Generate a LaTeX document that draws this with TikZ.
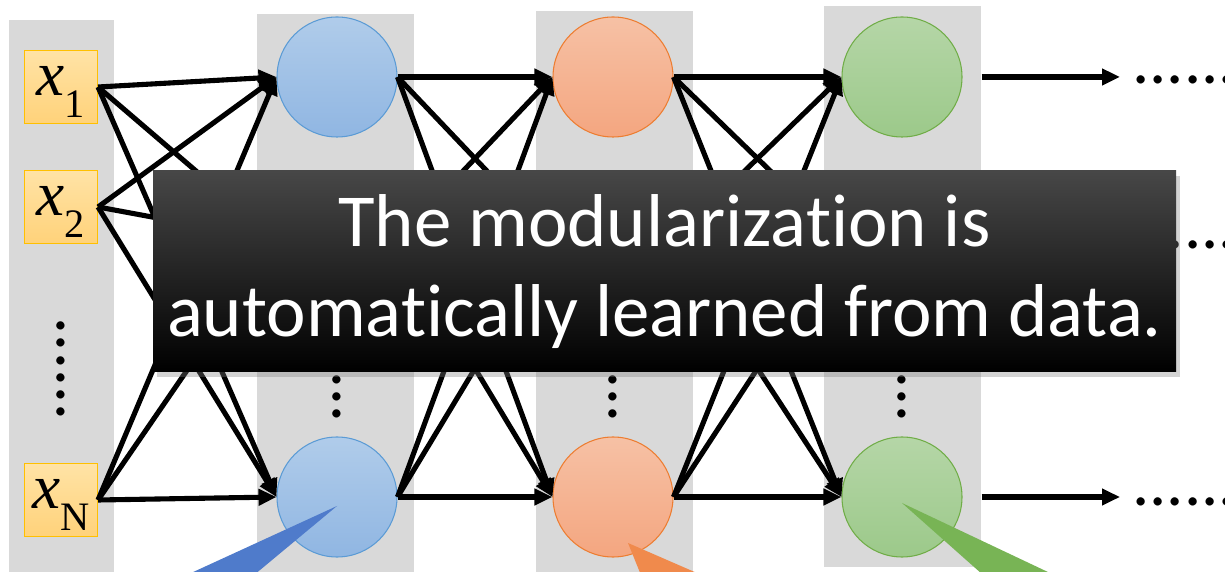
\documentclass[tikz,border=0pt]{standalone}
\usepackage{fontspec}
\setmainfont{Carlito}[Ligatures=NoCommon]
\newfontfamily\tnrfont{Liberation Serif}
\newfontfamily\tnritfont{Liberation Serif Italic}
\usetikzlibrary{positioning,arrows.meta,shadows}

\definecolor{colgray}{HTML}{D9D9D9}
\definecolor{inTop}{HTML}{FFE3A6}
\definecolor{inBot}{HTML}{FFD27A}
\definecolor{inLine}{HTML}{FFC000}
\definecolor{blueTop}{HTML}{B0CCEA}
\definecolor{blueBot}{HTML}{90B6E2}
\definecolor{blueLine}{HTML}{5B9BD5}
\definecolor{orTop}{HTML}{F6C1A5}
\definecolor{orBot}{HTML}{F4A680}
\definecolor{orLine}{HTML}{ED7D31}
\definecolor{grTop}{HTML}{B5D6A7}
\definecolor{grBot}{HTML}{9CC98A}
\definecolor{grLine}{HTML}{70AD47}
\definecolor{blueTag}{HTML}{4F7BCB}
\definecolor{orTag}{HTML}{F08A4C}
\definecolor{grTag}{HTML}{78B455}
\definecolor{bannerTop}{HTML}{474747}

\newcommand{\xin}[1]{\rule[-7pt]{0pt}{7pt}{\tnritfont x}\smash{\raisebox{-12.5pt}{\tnrfont\fontsize{23}{23}\selectfont #1}}}

\tikzset{
  inbox/.style={draw=inLine, line width=0.6pt, top color=inTop, bottom color=inBot,
    minimum size=1.46cm, inner sep=0pt, font=\fontsize{36}{36}\selectfont},
  unit/.style={circle, line width=0.6pt, minimum size=2.4cm, inner sep=0pt},
  blueunit/.style={unit, draw=blueLine, top color=blueTop, bottom color=blueBot},
  orangeunit/.style={unit, draw=orLine, top color=orTop, bottom color=orBot},
  greenunit/.style={unit, draw=grLine, top color=grTop, bottom color=grBot},
  hiddenunit/.style={unit},
  vdots/.style={inner sep=0pt, font=\fontsize{39}{39}\selectfont},
  hdots/.style={anchor=west, inner sep=0pt, font=\fontsize{39}{39}\selectfont},
  link/.style={->, line width=2.9pt},
  banner/.style={text=white, align=center, minimum width=20.46cm, minimum height=4.02cm,
    top color=bannerTop, middle color=black, bottom color=black,
    drop shadow={opacity=0.35, shadow xshift=2pt, shadow yshift=-3pt},
    font=\fontsize{42.6}{51}\selectfont}
}

\begin{document}
\begin{tikzpicture}[>={Triangle[length=0.36cm,width=0.32cm]}]
    \useasboundingbox (0,0) rectangle (24.5,-11.44);
    % layer columns
    \fill[colgray] (0.18,-0.4) rectangle (2.28,-11.44);
    \fill[colgray] (5.14,-0.28) rectangle (8.28,-11.44);
    \fill[colgray] (10.72,-0.22) rectangle (13.86,-11.44);
    \fill[colgray] (16.48,-0.12) rectangle (19.62,-11.34);

    \node[inbox] (x1) at (1.22,-1.74) {\xin{1}};
    \node[inbox] (x2) [below of=x1,node distance=2.4cm] {\xin{2}};
    \node[inbox] (xN) [below of=x2,node distance=5.86cm] {\xin{N}};
    \node[vdots] (xdots) [below of=x2,node distance=3.24cm] {\rotatebox{90}{......}};

    \node[blueunit] (b1) at (6.74,-1.54) {};
    \node[hiddenunit] (b2) [below of=b1,node distance=3.26cm] {};
    \node[blueunit] (b3) [below of=b1,node distance=8.4cm] {};
    \node[vdots] (bdots) [below of=b1,node distance=6.4cm] {\rotatebox{90}{...}};

    \node[orangeunit] (o1) [right of=b1,node distance=5.52cm] {};
    \node[hiddenunit] (o2) [right of=b2,node distance=5.52cm] {};
    \node[orangeunit] (o3) [right of=b3,node distance=5.52cm] {};
    \node[vdots] (odots) [right of=bdots,node distance=5.52cm] {\rotatebox{90}{...}};

    \node[greenunit] (g1) [right of=o1,node distance=5.78cm] {};
    \node[hiddenunit] (g2) [right of=o2,node distance=5.78cm] {};
    \node[greenunit] (g3) [right of=o3,node distance=5.78cm] {};
    \node[vdots] (gdots) [right of=odots,node distance=5.78cm] {\rotatebox{90}{...}};

    \node[hdots] (out1) at (22.64,-1.6) {......};
    \node[hdots] (out2) at (22.64,-4.9) {......};
    \node[hdots] (out3) at (22.64,-10.04) {......};

    % input layer
    \draw[link] (x1.east) -- (b1.west);
    \draw[link] (x1.east) -- (b2.west);
    \draw[link] (x1.east) -- (b3.west);
    \draw[link] (x2.east) -- (b1.west);
    \draw[link] (x2.east) -- (b2.west);
    \draw[link] (x2.east) -- (b3.west);
    \draw[link] (xN.east) -- (b1.west);
    \draw[link] (xN.east) -- (b2.west);
    \draw[link] (xN.east) -- (b3.west);

    % blue to orange
    \draw[link] (b1.east) -- (o1.west);
    \draw[link] (b1.east) -- (o2.west);
    \draw[link] (b1.east) -- (o3.west);
    \draw[link] (b2.east) -- (o1.west);
    \draw[link] (b2.east) -- (o2.west);
    \draw[link] (b2.east) -- (o3.west);
    \draw[link] (b3.east) -- (o1.west);
    \draw[link] (b3.east) -- (o2.west);
    \draw[link] (b3.east) -- (o3.west);

    % orange to green
    \draw[link] (o1.east) -- (g1.west);
    \draw[link] (o1.east) -- (g2.west);
    \draw[link] (o1.east) -- (g3.west);
    \draw[link] (o2.east) -- (g1.west);
    \draw[link] (o2.east) -- (g2.west);
    \draw[link] (o2.east) -- (g3.west);
    \draw[link] (o3.east) -- (g1.west);
    \draw[link] (o3.east) -- (g2.west);
    \draw[link] (o3.east) -- (g3.west);

    \draw[link,shorten >=0.24cm] ([xshift=0.38cm]g1.east) -- (g1.east -| out1.west);
    \draw[link,shorten >=0.24cm] ([xshift=0.38cm]g3.east) -- (g3.east -| out3.west);

    % callout pointers
    \fill[blueTag] ([yshift=-0.18cm]b3.center) -- (3.08,-11.8) -- (4.72,-11.8) -- cycle;
    \fill[orTag] (12.56,-10.86) -- (12.94,-11.8) -- (14.72,-11.8) -- cycle;
    \fill[grTag] ([yshift=-0.12cm]g3.center) -- (20.0,-11.8) -- (21.72,-11.8) -- cycle;

    \node[banner] (msg) at (13.29,-5.43) {The modularization is\\automatically learned from data.};
\end{tikzpicture}
\end{document}
